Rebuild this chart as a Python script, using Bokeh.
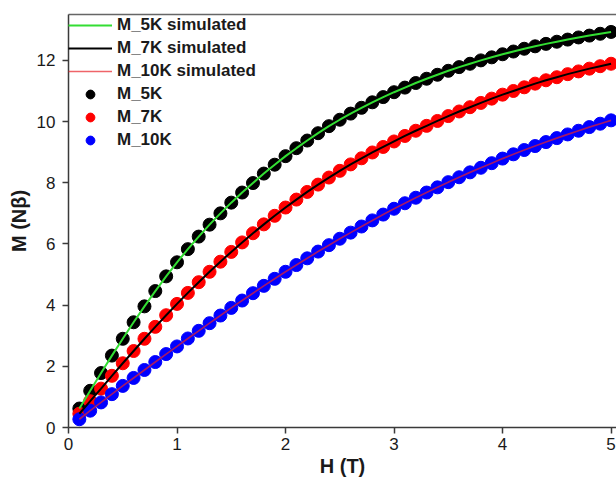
from bokeh.plotting import figure
from bokeh.models import Legend, LegendItem, LinearAxis, Range1d, FixedTicker
from bokeh.embed import file_html
from bokeh.resources import INLINE

# Applied field H (T)
field = [0.1, 0.2, 0.3, 0.4, 0.5, 0.6, 0.7, 0.8, 0.9, 1.0,
         1.1, 1.2, 1.3, 1.4, 1.5, 1.6, 1.7, 1.8, 1.9, 2.0,
         2.1, 2.2, 2.3, 2.4, 2.5, 2.6, 2.7, 2.8, 2.9, 3.0,
         3.1, 3.2, 3.3, 3.4, 3.5, 3.6, 3.7, 3.8, 3.9, 4.0,
         4.1, 4.2, 4.3, 4.4, 4.5, 4.6, 4.7, 4.8, 4.9, 5.0]

# Magnetisation M (N beta) at 5 K, 7 K and 10 K
m_5k = [0.62, 1.20, 1.78, 2.35, 2.90, 3.44, 3.96, 4.46, 4.94, 5.40,
        5.83, 6.24, 6.63, 7.00, 7.35, 7.68, 7.99, 8.30, 8.59, 8.87,
        9.13, 9.38, 9.62, 9.85, 10.06, 10.26, 10.45, 10.63, 10.80, 10.96,
        11.11, 11.26, 11.40, 11.53, 11.66, 11.78, 11.89, 12.00, 12.10, 12.20,
        12.29, 12.38, 12.46, 12.54, 12.61, 12.68, 12.75, 12.81, 12.87, 12.93]

m_7k = [0.45, 0.86, 1.27, 1.69, 2.10, 2.50, 2.90, 3.29, 3.67, 4.04,
        4.40, 4.75, 5.09, 5.42, 5.74, 6.05, 6.35, 6.64, 6.92, 7.19,
        7.45, 7.70, 7.94, 8.17, 8.39, 8.60, 8.80, 8.99, 9.17, 9.35,
        9.53, 9.70, 9.86, 10.02, 10.18, 10.33, 10.47, 10.61, 10.75, 10.88,
        11.00, 11.12, 11.24, 11.35, 11.45, 11.55, 11.64, 11.73, 11.81, 11.89]

m_10k = [0.27, 0.55, 0.82, 1.09, 1.36, 1.62, 1.88, 2.14, 2.40, 2.65,
         2.91, 3.16, 3.41, 3.66, 3.91, 4.15, 4.39, 4.63, 4.86, 5.09,
         5.31, 5.53, 5.75, 5.96, 6.17, 6.37, 6.57, 6.77, 6.96, 7.15,
         7.33, 7.51, 7.68, 7.85, 8.02, 8.18, 8.34, 8.49, 8.64, 8.79,
         8.93, 9.07, 9.20, 9.33, 9.46, 9.58, 9.70, 9.82, 9.93, 10.04]

x_ticks = [0, 1, 2, 3, 4, 5]
y_ticks = [0, 2, 4, 6, 8, 10, 12]

FONT = "Liberation Sans"
AXIS_COLOR = "#3a3a3a"

p = figure(width=616, height=479, output_backend="svg", toolbar_location=None,
           x_range=Range1d(0, 5.05), y_range=Range1d(0, 13.5),
           min_border_left=68, min_border_right=0,
           min_border_top=14, min_border_bottom=52)
p.outline_line_color = None
p.grid.visible = False
p.background_fill_color = "white"
p.border_fill_color = "white"

p.xaxis.ticker = FixedTicker(ticks=x_ticks)
p.yaxis.ticker = FixedTicker(ticks=y_ticks)
p.xaxis.axis_label = "H (T)"
p.yaxis.axis_label = "M (Nβ)"

for ax in (p.xaxis[0], p.yaxis[0]):
    ax.axis_line_color = AXIS_COLOR
    ax.axis_line_width = 1.5
    ax.major_tick_line_color = AXIS_COLOR
    ax.major_tick_line_width = 1.5
    ax.major_tick_out = 6
    ax.major_tick_in = 0
    ax.minor_tick_line_color = None
    ax.major_label_text_font = FONT
    ax.major_label_text_font_size = "17px"
    ax.major_label_text_color = "#1a1a1a"
    ax.axis_label_text_font = FONT
    ax.axis_label_text_font_size = "20px"
    ax.axis_label_text_font_style = "bold"
    ax.axis_label_text_color = "#1a1a1a"

p.xaxis.major_label_standoff = 4
p.xaxis.axis_label_standoff = 2
p.yaxis.major_label_standoff = 7
p.yaxis.axis_label_standoff = 4

# plain top border of the frame
top = LinearAxis(ticker=FixedTicker(ticks=[]), major_label_text_font_size="0px",
                 axis_line_color="#666666", axis_line_width=1.5,
                 major_tick_line_color=None, minor_tick_line_color=None)
p.add_layout(top, "above")

# measured points
d5 = p.scatter(field, m_5k, size=13, color="black")
d7 = p.scatter(field, m_7k, size=13, color="#ff0000")
d10 = p.scatter(field, m_10k, size=13, color="#0000ff")

# simulated curves
s5 = p.line(field, m_5k, line_color="#33dd33", line_width=2)
s7 = p.line(field, m_7k, line_color="black", line_width=2)
s10 = p.line(field, m_10k, line_color="#e8222a", line_width=1.7, line_alpha=0.7)

legend = Legend(items=[
    LegendItem(label="M_5K simulated", renderers=[s5]),
    LegendItem(label="M_7K simulated", renderers=[s7]),
    LegendItem(label="M_10K simulated", renderers=[s10]),
    LegendItem(label="M_5K", renderers=[d5]),
    LegendItem(label="M_7K", renderers=[d7]),
    LegendItem(label="M_10K", renderers=[d10]),
], location="top_left", padding=0, margin=0, spacing=1,
    glyph_height=22, glyph_width=44, label_height=22, label_standoff=5,
    label_text_font=FONT, label_text_font_style="bold",
    label_text_font_size="17px", label_text_color="#1a1a1a",
    border_line_color=None, background_fill_alpha=0)
p.add_layout(legend)

open("out.html", "w").write(file_html(p, INLINE))
